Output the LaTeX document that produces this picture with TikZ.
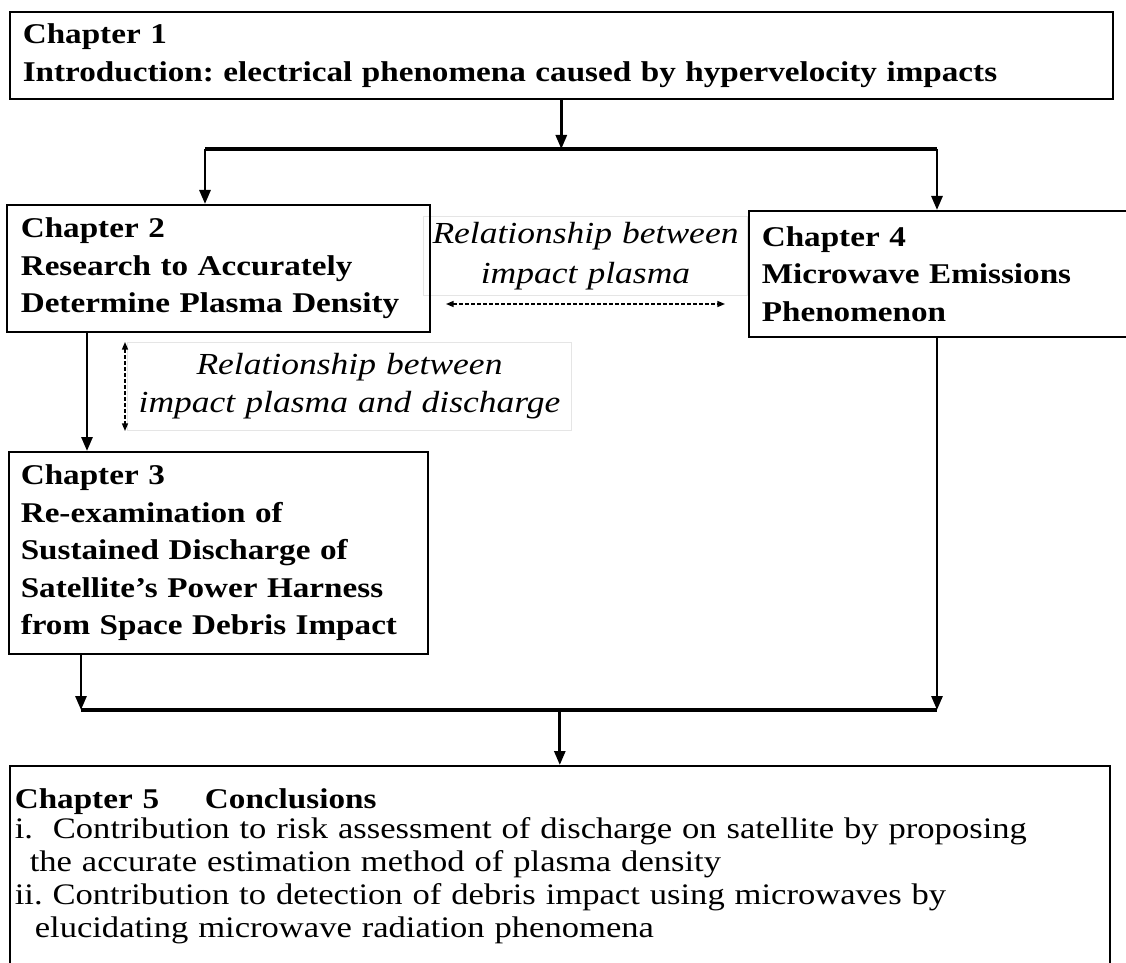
\documentclass[tikz,border=0pt]{standalone}
\usepackage{fontspec}
\setmainfont{Liberation Serif}[FakeStretch=1.16]
\usetikzlibrary{arrows.meta}
\frenchspacing

\begin{document}
\begin{tikzpicture}[x=0.5pt,y=-0.5pt,
  chapbox/.style={draw,line width=0.8pt,anchor=north west,align=left,inner ysep=0pt,
    font=\fontsize{14.3}{18.75}\selectfont\bfseries},
  relbox/.style={draw=black!10,line width=0.5pt,anchor=north west,align=center,
    inner sep=1pt,font=\fontsize{15.3}{19}\selectfont\itshape},
  flow/.style={line width=1.4pt,-{Triangle[length=7pt,width=5.5pt]}},
  bar/.style={line width=1.7pt},
  rel/.style={line width=0.7pt,dash pattern=on 2pt off 1pt,
    {Triangle[length=3.8pt,width=3pt]}-{Triangle[length=3.8pt,width=3pt]}}]
  \useasboundingbox (0,0) rectangle (1126,963);
  \clip (0,0) rectangle (1126,963);

  % relationship labels (faint frames)
  \node[relbox,text width=160pt,minimum height=39.5pt] (rel24) at (423,216)
    {Relationship between\\[1pt]impact plasma};
  \node[relbox,text width=220pt,minimum height=44pt] (rel23) at (127,342)
    {Relationship between\\impact plasma and discharge};

  % chapters
  \node[chapbox,inner xsep=6.5pt,text width=538.5pt,minimum height=43.5pt] (ch1) at (9,11)
    {Chapter 1\\[0.25pt]Introduction: electrical phenomena caused by hypervelocity impacts};
  \node[chapbox,inner xsep=7pt,text width=197.5pt,minimum height=63.5pt] (ch2) at (6,204)
    {Chapter 2\\Research to Accurately\\Determine Plasma Density};
  \node[chapbox,inner xsep=6.5pt,text width=200pt,minimum height=63pt] (ch4) at (748,210)
    {Chapter 4\\Microwave Emissions\\Phenomenon};
  \node[chapbox,inner xsep=6pt,text width=197.5pt,minimum height=101pt] (ch3) at (8,451)
    {Chapter 3\\Re-examination of\\Sustained Discharge of\\Satellite’s Power Harness\\from Space Debris Impact};
  \node[chapbox,inner xsep=2.5pt,inner ysep=11.3pt,text width=545pt,
    font=\fontsize{14.9}{16.5}\selectfont] (ch5) at (9,765)
    {{\fontsize{14.3}{16.5}\selectfont\bfseries Chapter 5\hspace{1.6em}Conclusions}\\[-1.5pt]
     i.\ \ Contribution to risk assessment of discharge on satellite by proposing\\
     \hspace*{7.5pt}the accurate estimation method of plasma density\\
     ii.\ Contribution to detection of debris impact using microwaves by\\
     \hspace*{10pt}elucidating microwave radiation phenomena};

  % fork and join points
  \coordinate (forkL) at (205,149);
  \coordinate (forkR) at (937,149);
  \coordinate (joinL) at (81,710);
  \coordinate (joinR) at (937,710);
  \coordinate (relL) at (446,304);
  \coordinate (relR) at (725,304);
  \coordinate (ch2out) at ([xshift=40.5pt]ch2.south west);

  \draw[bar] (forkL) -- (forkR);
  \draw[bar] (joinL) -- (joinR);
  \foreach \a/\b in {ch1.south/ch1.south |- forkL,
                     forkL/forkL |- ch2.north,
                     forkR/forkR |- ch4.north,
                     ch2out/ch2out |- ch3.north,
                     joinL |- ch3.south/joinL,
                     joinR |- ch4.south/joinR,
                     ch5.north |- joinL/ch5.north}
    \draw[flow] (\a) -- (\b);

  % dashed two-way relations
  \draw[rel] (relL) -- (relR);
  \draw[rel] ([xshift=-1pt]rel23.north west) -- ([xshift=-1pt]rel23.south west);
\end{tikzpicture}
\end{document}
